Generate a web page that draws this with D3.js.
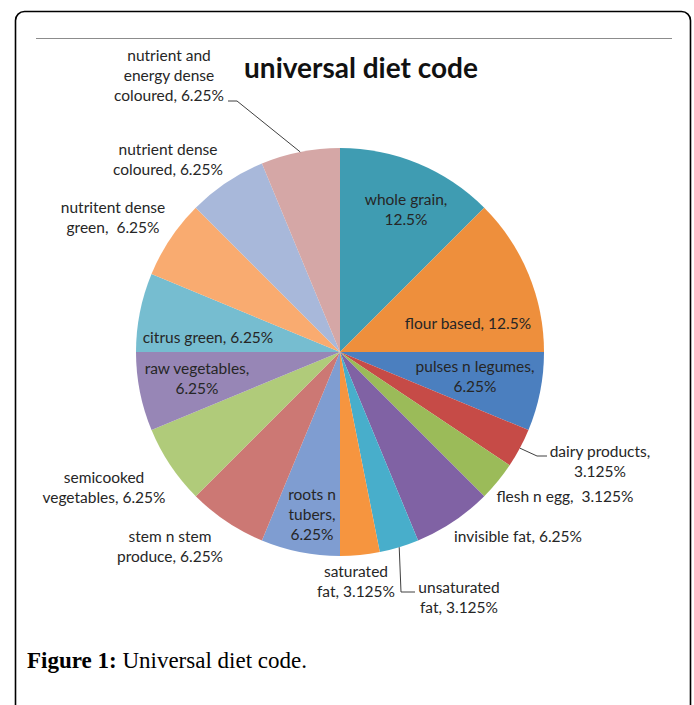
<!DOCTYPE html>
<html>
<head>
<meta charset="utf-8">
<script src="https://cdn.jsdelivr.net/npm/d3@7"></script>
<style>
  body { margin: 0; background: #fff; }
  svg { display: block; }
</style>
</head>
<body>
<div id="chart"></div>
<script>
// slice names, shares (%) and label lines, clockwise from 12 o'clock
const categories = [
    "whole grain", "flour based", "pulses n legumes", "dairy products", "flesh n egg",
    "invisible fat", "unsaturated fat", "saturated fat", "roots n tubers", "stem n stem produce",
    "semicooked vegetables", "raw vegetables", "citrus green", "nutritent dense green",
    "nutrient dense coloured", "nutrient and energy dense coloured"
];
const shares = [12.5, 12.5, 6.25, 3.125, 3.125, 6.25, 3.125, 3.125, 6.25, 6.25, 6.25, 6.25, 6.25, 6.25, 6.25, 6.25];
const labelLines = [
    ["whole grain,", "12.5%"],
    ["flour based, 12.5%"],
    ["pulses n legumes,", "6.25%"],
    ["dairy products,", "3.125%"],
    ["flesh n egg,  3.125%"],
    ["invisible fat, 6.25%"],
    ["unsaturated", "fat, 3.125%"],
    ["saturated", "fat, 3.125%"],
    ["roots n", "tubers,", "6.25%"],
    ["stem n stem", "produce, 6.25%"],
    ["semicooked", "vegetables, 6.25%"],
    ["raw vegetables,", "6.25%"],
    ["citrus green, 6.25%"],
    ["nutritent dense", "green,  6.25%"],
    ["nutrient dense", "coloured, 6.25%"],
    ["nutrient and", "energy dense", "coloured, 6.25%"]
];
const colors = [
    "#3f9cb2", "#ee8f3c", "#4b7fbf", "#c64b47", "#9bbb59", "#8062a4", "#48aecb", "#f6953f",
    "#7f9dd1", "#cc7874", "#b0cb7a", "#9786b6", "#76bdd0", "#f9ab70", "#a8b8da", "#d5a7a6"
];

const W = 694, H = 705;
const cx = 340, cy = 352, R = 204;

// label anchor (centre of first baseline) relative to pie centre, manual like Excel
const labelAt = [
    [66, -147], [128, -23], [135, 20], [260, 105], [225, 150], [178, 190], [119, 241], [16, 225],
    [-28, 148], [-170, 190], [-236, 131], [-143, 22], [-132, -9], [-227, -139], [-172, -197], [-171, -291]
];
// leader lines: indices of slices whose labels sit outside with a connector
const leaders = {
    3: [[537, 456], [547, 456]],
    6: [[401, 592], [415, 592]],
    15: [[237, 101], [228, 101]]
};

const svg = d3.select("#chart").append("svg")
    .attr("width", W)
    .attr("height", H);

// frame
svg.append("rect")
    .attr("x", 15.5).attr("y", 11.5)
    .attr("width", 675).attr("height", 740)
    .attr("rx", 9)
    .attr("fill", "none")
    .attr("stroke", "#000")
    .attr("stroke-width", 1.6);

svg.append("line")
    .attr("x1", 36).attr("x2", 672)
    .attr("y1", 38.5).attr("y2", 38.5)
    .attr("stroke", "#8c8c8c")
    .attr("stroke-width", 1);

svg.append("text")
    .attr("x", 361).attr("y", 78)
    .attr("text-anchor", "middle")
    .attr("font-family", "Lato, 'Open Sans', sans-serif")
    .attr("font-weight", "bold")
    .attr("font-size", 28)
    .attr("fill", "#111")
    .text("universal diet code");

const pie = d3.pie().sort(null).value(d => d);
const arcs = pie(shares);
const arc = d3.arc().innerRadius(0).outerRadius(R);
const edge = d3.arc().innerRadius(R).outerRadius(R);

const g = svg.append("g").attr("transform", `translate(${cx},${cy})`);

g.selectAll("path.slice")
    .data(arcs)
    .enter().append("path")
    .attr("class", "slice")
    .attr("d", arc)
    .attr("fill", (d, i) => colors[i]);

// leader lines start from the slice's outer edge mid-point
Object.entries(leaders).forEach(([i, pts]) => {
    const [ex, ey] = edge.centroid(arcs[+i]);
    const pts2 = [[ex + cx, ey + cy]].concat(pts);
    svg.append("path")
        .attr("d", d3.line()(pts2))
        .attr("fill", "none")
        .attr("stroke", "#404040")
        .attr("stroke-width", 1);
});

const labels = svg.append("g")
    .attr("font-family", "Lato, 'Open Sans', sans-serif")
    .attr("font-size", 15.5)
    .attr("fill", "#262626")
    .attr("text-anchor", "middle");

labelLines.forEach((lines, i) => {
    const t = labels.append("text")
        .attr("x", cx + labelAt[i][0])
        .attr("y", cy + labelAt[i][1]);
    lines.forEach((s, k) => {
        t.append("tspan")
            .attr("x", cx + labelAt[i][0])
            .attr("dy", k === 0 ? 0 : 20)
            .style("white-space", "pre")
            .text(s);
    });
});

// caption
const cap = svg.append("text")
    .attr("x", 27).attr("y", 668)
    .attr("font-family", "'Liberation Serif', 'DejaVu Serif', serif")
    .attr("font-size", 23)
    .attr("fill", "#000");
cap.append("tspan").attr("font-weight", "bold").text("Figure 1:");
cap.append("tspan").text(" Universal diet code.");
</script>
</body>
</html>
